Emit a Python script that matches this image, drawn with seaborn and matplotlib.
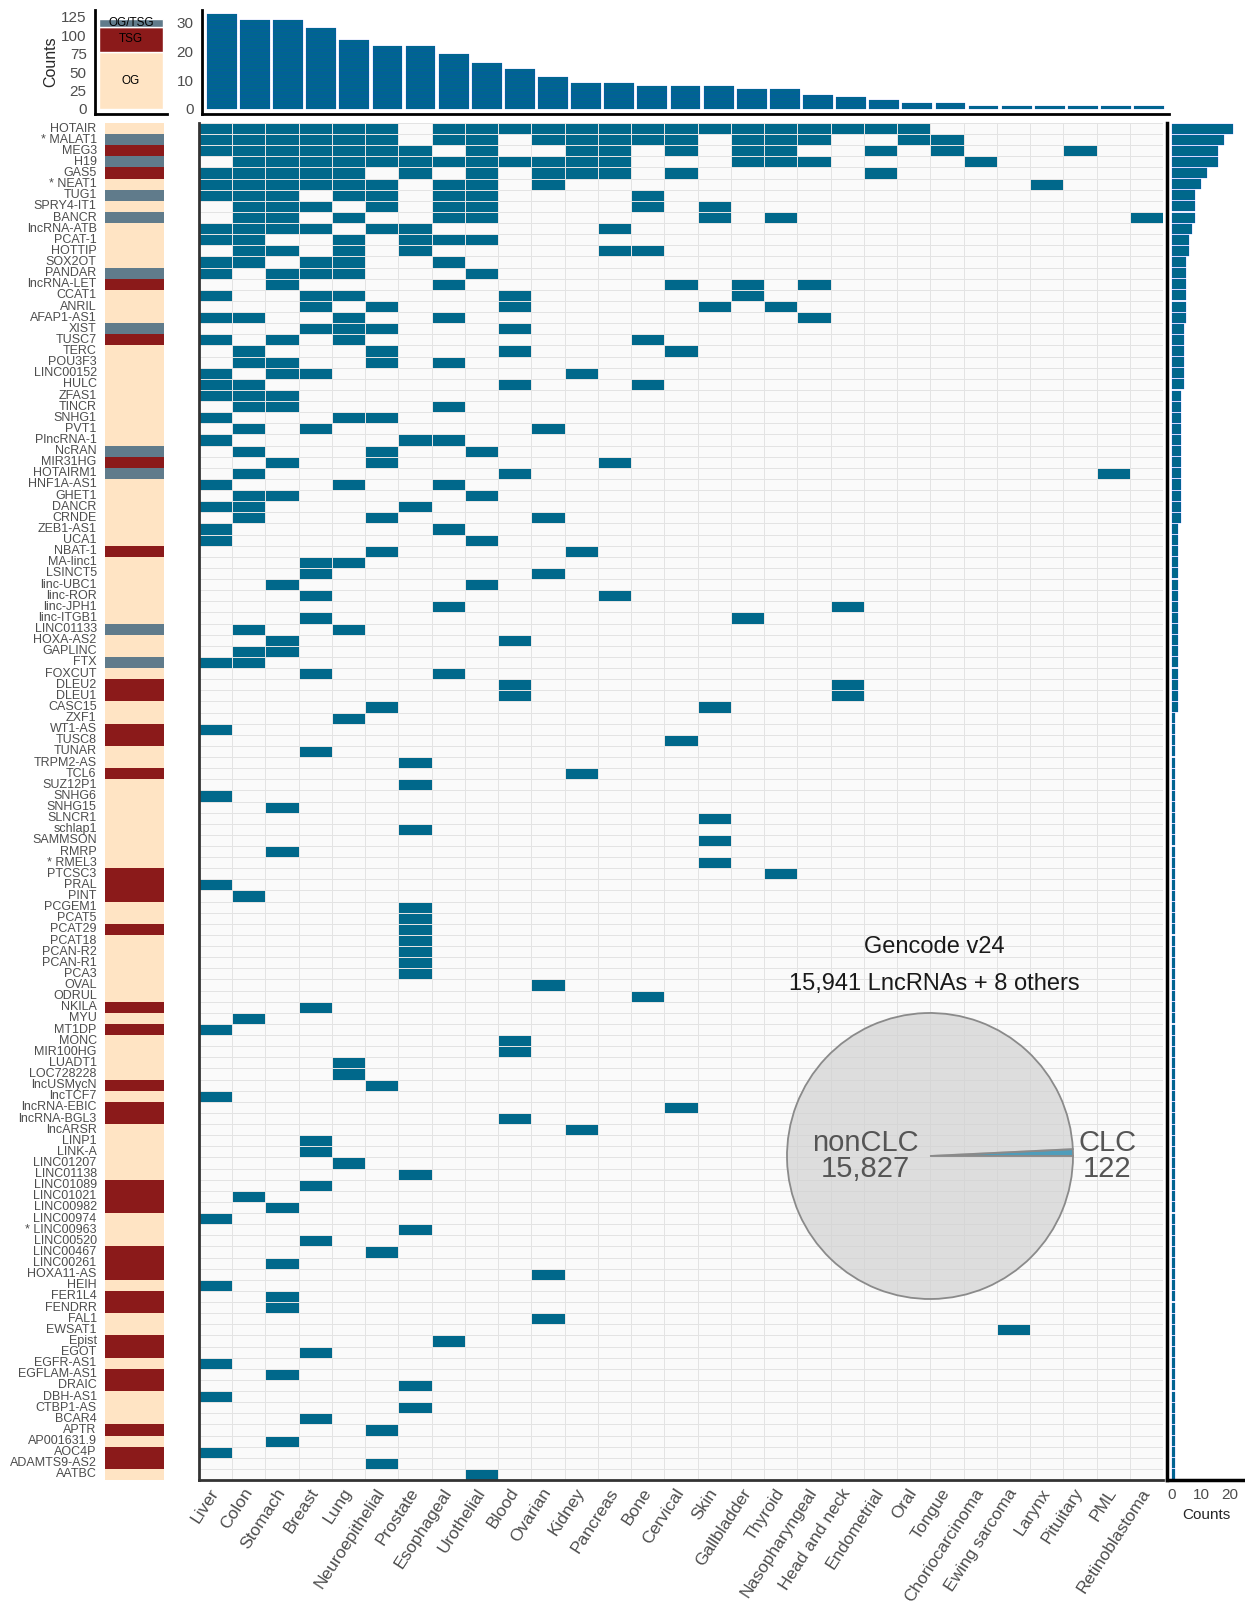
"""Cancer-associated lncRNAs across tissues: heatmap with marginal counts."""

import matplotlib

matplotlib.use("Agg")
import matplotlib.pyplot as plt
import numpy as np
import pandas as pd
import seaborn as sns
from matplotlib.colors import ListedColormap

TISSUES = [
    "Liver", "Colon", "Stomach", "Breast", "Lung", "Neuroepithelial", "Prostate",
    "Esophageal", "Urothelial", "Blood", "Ovarian", "Kidney", "Pancreas", "Bone",
    "Cervical", "Skin", "Gallbladder", "Thyroid", "Nasopharyngeal", "Head and neck",
    "Endometrial", "Oral", "Tongue", "Choriocarcinoma", "Ewing sarcoma", "Larynx",
    "Pituitary", "PML", "Retinoblastoma",
]

LNCRNAS = [
    "HOTAIR", "* MALAT1", "MEG3", "H19", "GAS5", "* NEAT1", "TUG1", "SPRY4-IT1",
    "BANCR", "lncRNA-ATB", "PCAT-1", "HOTTIP", "SOX2OT", "PANDAR", "lncRNA-LET",
    "CCAT1", "ANRIL", "AFAP1-AS1", "XIST", "TUSC7", "TERC", "POU3F3", "LINC00152",
    "HULC", "ZFAS1", "TINCR", "SNHG1", "PVT1", "PlncRNA-1", "NcRAN", "MIR31HG",
    "HOTAIRM1", "HNF1A-AS1", "GHET1", "DANCR", "CRNDE", "ZEB1-AS1", "UCA1",
    "NBAT-1", "MA-linc1", "LSINCT5", "linc-UBC1", "linc-ROR", "linc-JPH1",
    "linc-ITGB1", "LINC01133", "HOXA-AS2", "GAPLINC", "FTX", "FOXCUT", "DLEU2",
    "DLEU1", "CASC15", "ZXF1", "WT1-AS", "TUSC8", "TUNAR", "TRPM2-AS", "TCL6",
    "SUZ12P1", "SNHG6", "SNHG15", "SLNCR1", "schlap1", "SAMMSON", "RMRP", "* RMEL3",
    "PTCSC3", "PRAL", "PINT", "PCGEM1", "PCAT5", "PCAT29", "PCAT18", "PCAN-R2",
    "PCAN-R1", "PCA3", "OVAL", "ODRUL", "NKILA", "MYU", "MT1DP", "MONC", "MIR100HG",
    "LUADT1", "LOC728228", "lncUSMycN", "lncTCF7", "lncRNA-EBIC", "lncRNA-BGL3",
    "lncARSR", "LINP1", "LINK-A", "LINC01207", "LINC01138", "LINC01089", "LINC01021",
    "LINC00982", "LINC00974", "* LINC00963", "LINC00520", "LINC00467", "LINC00261",
    "HOXA11-AS", "HEIH", "FER1L4", "FENDRR", "FAL1", "EWSAT1", "Epist", "EGOT",
    "EGFR-AS1", "EGFLAM-AS1", "DRAIC", "DBH-AS1", "CTBP1-AS", "BCAR4", "APTR",
    "AP001631.9", "AOC4P", "ADAMTS9-AS2", "AATBC",
]

# tissues (1-based, TISSUES order) where each lncRNA is reported
HITS = [
    [1, 2, 3, 4, 5, 6, 8, 9, 10, 11, 12, 13, 14, 15, 16, 17, 18, 19, 20, 21, 22],
    [1, 2, 3, 4, 5, 6, 8, 9, 11, 12, 13, 14, 15, 17, 18, 19, 22, 23],
    [1, 2, 3, 4, 5, 6, 7, 9, 12, 13, 15, 17, 18, 21, 23, 27],
    [2, 3, 4, 5, 6, 7, 8, 9, 10, 11, 12, 13, 17, 18, 19, 24],
    [1, 2, 3, 4, 5, 7, 9, 11, 12, 13, 15, 21],
    [1, 2, 3, 4, 5, 6, 8, 9, 11, 26],
    [1, 2, 3, 5, 6, 8, 9, 14],
    [2, 3, 4, 6, 8, 9, 14, 16],
    [2, 3, 5, 8, 9, 16, 18, 29],
    [1, 2, 3, 4, 6, 7, 13],
    [1, 2, 5, 7, 8, 9],
    [2, 3, 5, 7, 13, 14],
    [1, 2, 4, 5, 8],
    [1, 3, 4, 5, 9],
    [3, 8, 15, 17, 19],
    [1, 4, 5, 10, 17],
    [4, 6, 10, 16, 18],
    [1, 2, 5, 8, 19],
    [4, 5, 6, 10],
    [1, 3, 5, 14],
    [2, 6, 10, 15],
    [2, 3, 6, 8],
    [1, 3, 4, 12],
    [1, 2, 10, 14],
    [1, 2, 3],
    [2, 3, 8],
    [1, 5, 6],
    [2, 4, 11],
    [1, 7, 8],
    [2, 6, 9],
    [3, 6, 13],
    [2, 10, 28],
    [1, 5, 8],
    [2, 3, 9],
    [1, 2, 7],
    [2, 6, 11],
    [1, 8], [1, 9], [6, 12], [4, 5], [4, 11], [3, 9], [4, 13], [8, 20], [4, 17],
    [2, 5], [3, 10], [2, 3], [1, 2], [4, 8], [10, 20], [10, 20], [6, 16],
    [5], [1], [15], [4], [7], [12], [7], [1], [3], [16], [7], [16], [3], [16],
    [18], [1], [2], [7], [7], [7], [7], [7], [7], [7], [11], [14], [4], [2], [1],
    [10], [10], [5], [5], [6], [1], [15], [10], [12], [4], [4], [5], [7], [4],
    [2], [3], [1], [7], [4], [6], [3], [11], [1], [3], [3], [11], [25], [8], [4],
    [1], [3], [7], [1], [7], [4], [6], [3], [1], [6], [9],
]

ROLE = (
    ["OG", "OG/TSG", "TSG", "OG/TSG", "TSG", "OG", "OG/TSG", "OG", "OG/TSG"]
    + ["OG"] * 4 + ["OG/TSG", "TSG"] + ["OG"] * 3 + ["OG/TSG", "TSG"]
    + ["OG"] * 9 + ["OG/TSG", "TSG", "OG/TSG"] + ["OG"] * 6 + ["TSG"]
    + ["OG"] * 6 + ["OG/TSG"] + ["OG"] * 2 + ["OG/TSG", "OG", "TSG", "TSG"]
    + ["OG"] * 2 + ["TSG", "TSG", "OG", "OG", "TSG"] + ["OG"] * 8
    + ["TSG"] * 3 + ["OG"] * 2 + ["TSG"] + ["OG"] * 6 + ["TSG", "OG", "TSG"]
    + ["OG"] * 4 + ["TSG", "OG", "TSG", "TSG"] + ["OG"] * 5 + ["TSG"] * 3
    + ["OG"] * 3 + ["TSG"] * 3 + ["OG", "TSG", "TSG", "OG", "OG", "TSG", "TSG", "OG"]
    + ["TSG", "TSG"] + ["OG"] * 3 + ["TSG", "OG", "TSG", "TSG", "OG"]
)
ROLE_ORDER = ["OG", "TSG", "OG/TSG"]

PIE_LABELS = ["CLC", "nonCLC"]
PIE_COUNTS = [122, 15827]

TEAL = "#00688B"
EDGE_BLUE = (0.1, 0.2, 0.95, 0.45)
ROLE_COLORS = ["#FFE4C4", "#8B1A1A", "#607B8B"]
GREY_TXT = "#4d4d4d"

W, H = 1245, 1603


def box(x0, y0, x1, y1):
    """Pixel box (top-left origin) -> figure fraction rect."""
    return [x0 / W, 1 - y1 / H, (x1 - x0) / W, (y1 - y0) / H]


sns.set_style("white")
plt.rcParams["font.family"] = ["Liberation Sans", "DejaVu Sans"]

mat = np.zeros((len(LNCRNAS), len(TISSUES)), dtype=int)
for i, hits in enumerate(HITS):
    mat[i, np.array(hits) - 1] = 1
df = pd.DataFrame(mat, index=LNCRNAS, columns=TISSUES)
n_rows, n_cols = df.shape

fig = plt.figure(figsize=(W / 100, H / 100), dpi=100)

# main heatmap
ax_hm = fig.add_axes(box(199, 123, 1163, 1480))
sns.heatmap(df, ax=ax_hm, cmap=ListedColormap(["#fafafa", TEAL]), vmin=0, vmax=1,
            cbar=False, linewidths=0.7, linecolor="#e3e3e3",
            xticklabels=True, yticklabels=False)
ax_hm.set_xticklabels(TISSUES, rotation=57, ha="right", va="center",
                      rotation_mode="anchor", fontsize=12.5, color=GREY_TXT)
ax_hm.tick_params(axis="x", length=3, width=1, color="#333333", pad=4)
ax_hm.set_xlabel("")
ax_hm.set_ylabel("")
for side in ["left", "bottom"]:
    ax_hm.spines[side].set_visible(True)
    ax_hm.spines[side].set_linewidth(2)
    ax_hm.spines[side].set_color("#333333")

# role annotation column with row names
role_df = pd.DataFrame({"role": [ROLE_ORDER.index(r) for r in ROLE]}, index=LNCRNAS)
ax_ann = fig.add_axes(box(105, 123, 164, 1480))
sns.heatmap(role_df, ax=ax_ann, cmap=ListedColormap(ROLE_COLORS), vmin=-0.5, vmax=2.5,
            cbar=False, xticklabels=False, yticklabels=True)
ax_ann.set_yticklabels(LNCRNAS, fontsize=9, color=GREY_TXT)
ax_ann.tick_params(axis="y", length=0, pad=6)
ax_ann.set_ylabel("")

# role count stacked bar (top left)
ax_role = fig.add_axes(box(95, 10, 167, 114))
role_counts = pd.Series(ROLE).value_counts().reindex(ROLE_ORDER)
bottom = 0
for role, color in zip(ROLE_ORDER, ROLE_COLORS):
    ax_role.bar(0, role_counts[role], bottom=bottom, width=0.89, color=color)
    ax_role.text(0, bottom + role_counts[role] / 2, role, ha="center", va="center",
                 fontsize=8.5, color="black")
    bottom += role_counts[role]
ax_role.set_xlim(-0.5, 0.5)
ax_role.set_ylim(-6.8, 134.5)
ax_role.set_yticks([0, 25, 50, 75, 100, 125])
ax_role.set_xticks([0])
ax_role.set_xticklabels([""])
ax_role.set_ylabel("Counts", fontsize=11.5, labelpad=2)
ax_role.tick_params(axis="both", length=4, width=1.5, color="#333333",
                    labelsize=11, labelcolor=GREY_TXT, pad=2)
sns.despine(ax=ax_role)
for side in ["left", "bottom"]:
    ax_role.spines[side].set_linewidth(2)
    ax_role.spines[side].set_color("black")

# counts per tissue (top)
ax_top = fig.add_axes(box(202, 10, 1169, 114))
col_totals = df.sum(axis=0).values
xpos = np.arange(n_cols)
for level in range(col_totals.max()):
    keep = col_totals > level
    ax_top.bar(xpos[keep], np.ones(keep.sum()), bottom=level, width=0.9,
               color=TEAL, edgecolor=EDGE_BLUE, linewidth=0.25)
ax_top.set_xlim(-0.6, n_cols - 0.4)
ax_top.set_ylim(-1.75, 34.4)
ax_top.set_xticks(xpos)
ax_top.set_xticklabels([""] * n_cols)
ax_top.set_yticks([0, 10, 20, 30])
ax_top.tick_params(axis="both", length=4, width=1.5, color="#333333",
                   labelsize=11, labelcolor=GREY_TXT, pad=2)
sns.despine(ax=ax_top)
for side in ["left", "bottom"]:
    ax_top.spines[side].set_linewidth(2)
    ax_top.spines[side].set_color("black")

# counts per lncRNA (right)
ax_right = fig.add_axes(box(1167, 123, 1245, 1480))
row_totals = df.sum(axis=1).values
ypos = np.arange(n_rows) + 0.5
ax_right.barh(ypos, row_totals, height=0.9, color=TEAL, edgecolor=EDGE_BLUE,
              linewidth=0.3)
ax_right.set_ylim(n_rows, 0)
ax_right.set_xlim(-1.7, 25.2)
ax_right.set_yticks(ypos)
ax_right.set_yticklabels([""] * n_rows)
ax_right.set_xticks([0, 5, 10, 15, 20])
ax_right.set_xticklabels(["0", "", "10", "", "20"])
ax_right.set_xlabel("Counts", fontsize=11)
ax_right.tick_params(axis="both", length=4, width=1.5, color="#333333",
                     labelsize=11, labelcolor=GREY_TXT, pad=2)
sns.despine(ax=ax_right)
for side in ["left", "bottom"]:
    ax_right.spines[side].set_linewidth(2.5)
    ax_right.spines[side].set_color("black")

# pie inset: CLC vs nonCLC in Gencode v24
ax_pie = fig.add_axes(box(930 - 143, 1156 - 143, 930 + 143, 1156 + 143))
ax_pie.pie(PIE_COUNTS, colors=["#4f9dbb", (0.82, 0.82, 0.82, 0.7)],
           startangle=0, counterclock=True, radius=1,
           wedgeprops=dict(edgecolor="#8a8a8a", linewidth=1.3))
ax_pie.set_xlim(-1, 1)
ax_pie.set_ylim(-1, 1)
ax_pie.axis("off")
ax_pie.text(-0.45, 0, f"{PIE_LABELS[1]}\n{PIE_COUNTS[1]:,}", ha="center", va="center",
            fontsize=21, color="#555555", linespacing=0.95, clip_on=False)
ax_pie.text(1.24, 0, f"{PIE_LABELS[0]}\n{PIE_COUNTS[0]:,}", ha="center", va="center",
            fontsize=21, color="#555555", linespacing=0.95, clip_on=False)
ax_pie.text(0.03, 1.46, "Gencode v24", ha="center", va="center", fontsize=17,
            color="#1a1a1a", clip_on=False)
ax_pie.text(0.03, 1.2, f"{sum(PIE_COUNTS) - 8:,} LncRNAs + 8 others", ha="center",
            va="center", fontsize=17, color="#1a1a1a", clip_on=False)

fig.savefig("out.png", dpi=100)
plt.close(fig)
